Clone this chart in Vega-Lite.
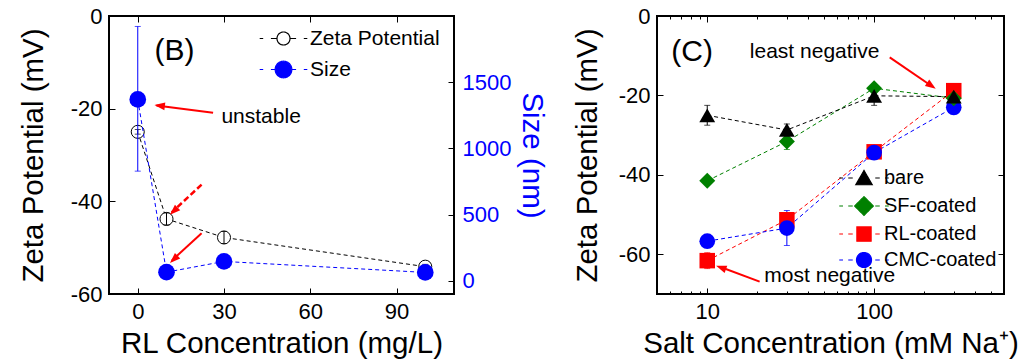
{
  "$schema": "https://vega.github.io/schema/vega-lite/v6.json",
  "padding": {"left": 17, "top": 4, "right": 0, "bottom": 0},
  "bounds": "flush",
  "spacing": 203,
  "datasets": {
    "rl": [
      {"conc": 0, "series": "Zeta Potential", "value": -25.0, "lo": -25.5, "hi": -24.5},
      {"conc": 10, "series": "Zeta Potential", "value": -43.8, "lo": -45.1, "hi": -42.5},
      {"conc": 30, "series": "Zeta Potential", "value": -47.8, "lo": -49.1, "hi": -46.5},
      {"conc": 100, "series": "Zeta Potential", "value": -54.1, "lo": -54.6, "hi": -53.6},
      {"conc": 0, "series": "Size", "value": 1370, "lo": 828, "hi": 1921},
      {"conc": 10, "series": "Size", "value": 65, "lo": 65, "hi": 65},
      {"conc": 30, "series": "Size", "value": 146, "lo": 146, "hi": 146},
      {"conc": 100, "series": "Size", "value": 63, "lo": 63, "hi": 63}
    ],
    "salt": [
      {"salt": 10, "sample": "RL-coated", "zeta": -61.6, "lo": -63.6, "hi": -59.6},
      {"salt": 30, "sample": "RL-coated", "zeta": -51.3, "lo": -52.3, "hi": -50.3},
      {"salt": 100, "sample": "RL-coated", "zeta": -34.2, "lo": -34.7, "hi": -33.7},
      {"salt": 300, "sample": "RL-coated", "zeta": -18.8, "lo": -19.3, "hi": -18.3},
      {"salt": 10, "sample": "CMC-coated", "zeta": -56.7, "lo": -57.2, "hi": -56.2},
      {"salt": 30, "sample": "CMC-coated", "zeta": -53.4, "lo": -57.8, "hi": -49.0},
      {"salt": 100, "sample": "CMC-coated", "zeta": -34.4, "lo": -34.9, "hi": -33.9},
      {"salt": 300, "sample": "CMC-coated", "zeta": -23.0, "lo": -23.5, "hi": -22.5},
      {"salt": 10, "sample": "SF-coated", "zeta": -41.5, "lo": -42.0, "hi": -41.0},
      {"salt": 30, "sample": "SF-coated", "zeta": -31.6, "lo": -33.6, "hi": -29.6},
      {"salt": 100, "sample": "SF-coated", "zeta": -18.2, "lo": -18.7, "hi": -17.7},
      {"salt": 300, "sample": "SF-coated", "zeta": -20.7, "lo": -21.2, "hi": -20.2},
      {"salt": 10, "sample": "bare", "zeta": -25.0, "lo": -27.5, "hi": -22.5},
      {"salt": 30, "sample": "bare", "zeta": -28.7, "lo": -30.2, "hi": -27.2},
      {"salt": 100, "sample": "bare", "zeta": -20.1, "lo": -22.5, "hi": -17.7},
      {"salt": 300, "sample": "bare", "zeta": -20.3, "lo": -21.8, "hi": -18.8}
    ]
  },
  "hconcat": [
    {
      "width": 345,
      "height": 278,
      "layer": [
        {
          "data": {"name": "rl"},
          "transform": [{"filter": "datum.series === 'Zeta Potential'"}],
          "mark": {"type": "line", "strokeDash": [4, 3], "strokeWidth": 1},
          "encoding": {
            "x": {"field": "conc", "type": "quantitative", "scale": {"domain": [-10, 110], "nice": false, "zero": false},
              "axis": {"orient": "bottom", "values": [0, 30, 60, 90], "labelExpr": "'' + datum.value", "title": "RL Concentration (mg/L)", "titlePadding": 7.5}},
            "y": {"field": "value", "type": "quantitative", "scale": {"domain": [-60, 0], "nice": false, "zero": false},
              "axis": {"orient": "left", "values": [-60, -40, -20, 0], "labelExpr": "'' + datum.value", "title": "Zeta Potential (mV)", "titlePadding": 22}},
            "color": {"field": "series", "type": "nominal",
              "scale": {"domain": ["Zeta Potential", "Size"], "range": ["black", "blue"]},
              "legend": {"title": null, "orient": "none", "legendX": 164, "legendY": 12, "padding": 0,
                "symbolSize": 196, "symbolStrokeWidth": 1.2, "labelFontSize": 21, "labelOffset": 16, "rowPadding": 9,
                "labelColor": "black", "labelFont": "Liberation Sans",
                "encode": {"symbols": {"update": {
                  "shape": {"signal": "datum.value === 'Size' ? 'M-3.4,0H-2.9M-1.8,0H-1.19M1.19,0H1.8M2.9,0H3.4M1.19,0A1.19,1.19 0 1,1 -1.19,0A1.19,1.19 0 1,1 1.19,0Z' : 'M-3.4,0H-2.9M-1.8,0H-1M1,0H1.8M2.9,0H3.4M0.93,0A0.93,0.93 0 1,1 -0.93,0A0.93,0.93 0 1,1 0.93,0Z'"},
                  "fill": {"signal": "datum.value === 'Size' ? 'blue' : 'white'"},
                  "stroke": {"signal": "datum.value === 'Size' ? 'blue' : 'black'"},
                  "strokeWidth": {"value": 1.2},
                  "strokeDash": {"value": [1, 0]},
                  "opacity": {"value": 1}
                }}}
              }
            }
          }
        },
        {
          "data": {"name": "rl"},
          "transform": [{"filter": "datum.series === 'Zeta Potential'"}],
          "mark": {"type": "point", "shape": "circle", "filled": true, "fill": "white", "stroke": "black", "strokeWidth": 1, "size": 170, "opacity": 1},
          "encoding": {
            "x": {"field": "conc", "type": "quantitative", "axis": null, "scale": {"domain": [-10, 110], "nice": false, "zero": false}},
            "y": {"field": "value", "type": "quantitative", "axis": null, "scale": {"domain": [-60, 0], "nice": false, "zero": false}}
          }
        },
        {
          "data": {"name": "rl"},
          "transform": [{"filter": "datum.series === 'Zeta Potential'"}],
          "mark": {"type": "errorbar", "ticks": {"size": 6}, "color": "black", "thickness": 1},
          "encoding": {
            "x": {"field": "conc", "type": "quantitative", "axis": null, "scale": {"domain": [-10, 110], "nice": false, "zero": false}},
            "y": {"field": "lo", "type": "quantitative", "axis": null, "scale": {"domain": [-60, 0], "nice": false, "zero": false}},
            "y2": {"field": "hi"}
          }
        },
        {
          "data": {"name": "rl"},
          "transform": [{"filter": "datum.series === 'Size'"}],
          "mark": {"type": "line", "strokeDash": [4, 3], "strokeWidth": 1},
          "encoding": {
            "x": {"field": "conc", "type": "quantitative", "scale": {"domain": [-10, 110], "nice": false, "zero": false},
              "axis": {"orient": "top", "values": [0, 30, 60, 90], "labels": false, "title": null}},
            "y": {"field": "value", "type": "quantitative", "scale": {"domain": [-100, 2000], "nice": false, "zero": false},
              "axis": {"orient": "right", "values": [0, 500, 1000, 1500], "labelExpr": "'' + datum.value", "title": "Size (nm)", "titlePadding": 6,
                "labelColor": "blue", "titleColor": "blue", "labelPadding": 14}},
            "color": {"field": "series", "type": "nominal",
              "scale": {"domain": ["Zeta Potential", "Size"], "range": ["black", "blue"]},
              "legend": {"title": null, "orient": "none", "legendX": 164, "legendY": 12, "padding": 0,
                "symbolSize": 196, "symbolStrokeWidth": 1.2, "labelFontSize": 21, "labelOffset": 16, "rowPadding": 9,
                "labelColor": "black", "labelFont": "Liberation Sans",
                "encode": {"symbols": {"update": {
                  "shape": {"signal": "datum.value === 'Size' ? 'M-3.4,0H-2.9M-1.8,0H-1.19M1.19,0H1.8M2.9,0H3.4M1.19,0A1.19,1.19 0 1,1 -1.19,0A1.19,1.19 0 1,1 1.19,0Z' : 'M-3.4,0H-2.9M-1.8,0H-1M1,0H1.8M2.9,0H3.4M0.93,0A0.93,0.93 0 1,1 -0.93,0A0.93,0.93 0 1,1 0.93,0Z'"},
                  "fill": {"signal": "datum.value === 'Size' ? 'blue' : 'white'"},
                  "stroke": {"signal": "datum.value === 'Size' ? 'blue' : 'black'"},
                  "strokeWidth": {"value": 1.2},
                  "strokeDash": {"value": [1, 0]},
                  "opacity": {"value": 1}
                }}}
              }
            }
          }
        },
        {
          "data": {"name": "rl"},
          "transform": [{"filter": "datum.series === 'Size'"}],
          "mark": {"type": "errorbar", "ticks": {"size": 6}, "color": "blue", "thickness": 1},
          "encoding": {
            "x": {"field": "conc", "type": "quantitative", "axis": null, "scale": {"domain": [-10, 110], "nice": false, "zero": false}},
            "y": {"field": "lo", "type": "quantitative", "axis": null, "scale": {"domain": [-100, 2000], "nice": false, "zero": false}},
            "y2": {"field": "hi"}
          }
        },
        {
          "data": {"name": "rl"},
          "transform": [{"filter": "datum.series === 'Size'"}],
          "mark": {"type": "point", "shape": "circle", "filled": true, "color": "blue", "size": 278, "opacity": 1},
          "encoding": {
            "x": {"field": "conc", "type": "quantitative", "axis": null, "scale": {"domain": [-10, 110], "nice": false, "zero": false}},
            "y": {"field": "value", "type": "quantitative", "axis": null, "scale": {"domain": [-100, 2000], "nice": false, "zero": false}}
          }
        },
        {
          "data": {"values": [{}]},
          "mark": {"type": "text", "text": "(B)", "fontSize": 30, "align": "center", "baseline": "middle", "color": "black"},
          "encoding": {"x": {"datum": 12.8, "type": "quantitative", "axis": null}, "y": {"datum": -7.6, "type": "quantitative", "axis": null, "scale": {"domain": [-60, 0], "nice": false, "zero": false}}}
        },
        {
          "data": {"values": [{}]},
          "mark": {"type": "text", "text": "unstable", "fontSize": 21, "align": "left", "baseline": "middle", "color": "black"},
          "encoding": {"x": {"datum": 29.1, "type": "quantitative", "axis": null}, "y": {"datum": -21.7, "type": "quantitative", "axis": null, "scale": {"domain": [-60, 0], "nice": false, "zero": false}}}
        },
        {
          "data": {"values": [{}]},
          "mark": {"type": "rule", "color": "red", "strokeWidth": 2},
          "encoding": {"x": {"datum": 26.2, "type": "quantitative", "axis": null}, "y": {"datum": -20.9, "type": "quantitative", "axis": null, "scale": {"domain": [-60, 0], "nice": false, "zero": false}},
            "x2": {"datum": 6.5}, "y2": {"datum": -19.3}}
        },
        {
          "data": {"values": [{}]},
          "mark": {"type": "point", "shape": "M0,0L0.55,1.5L-0.55,1.5Z", "filled": true, "color": "red", "size": 196, "angle": 277.4, "opacity": 1},
          "encoding": {"x": {"datum": 5.8, "type": "quantitative", "axis": null}, "y": {"datum": -19.2, "type": "quantitative", "axis": null, "scale": {"domain": [-60, 0], "nice": false, "zero": false}}}
        },
        {
          "data": {"values": [{}]},
          "mark": {"type": "rule", "color": "red", "strokeWidth": 2.5, "strokeDash": [6, 3]},
          "encoding": {"x": {"datum": 22.2, "type": "quantitative", "axis": null}, "y": {"datum": -36.4, "type": "quantitative", "axis": null, "scale": {"domain": [-60, 0], "nice": false, "zero": false}},
            "x2": {"datum": 11.8}, "y2": {"datum": -42.4}}
        },
        {
          "data": {"values": [{}]},
          "mark": {"type": "point", "shape": "M0,0L0.55,1.5L-0.55,1.5Z", "filled": true, "color": "red", "size": 196, "angle": 226.6, "opacity": 1},
          "encoding": {"x": {"datum": 11.2, "type": "quantitative", "axis": null}, "y": {"datum": -42.9, "type": "quantitative", "axis": null, "scale": {"domain": [-60, 0], "nice": false, "zero": false}}}
        },
        {
          "data": {"values": [{}]},
          "mark": {"type": "rule", "color": "red", "strokeWidth": 2},
          "encoding": {"x": {"datum": 22.2, "type": "quantitative", "axis": null}, "y": {"datum": -46.9, "type": "quantitative", "axis": null, "scale": {"domain": [-60, 0], "nice": false, "zero": false}},
            "x2": {"datum": 11.8}, "y2": {"datum": -52.8}}
        },
        {
          "data": {"values": [{}]},
          "mark": {"type": "point", "shape": "M0,0L0.55,1.5L-0.55,1.5Z", "filled": true, "color": "red", "size": 196, "angle": 226.6, "opacity": 1},
          "encoding": {"x": {"datum": 11.2, "type": "quantitative", "axis": null}, "y": {"datum": -53.3, "type": "quantitative", "axis": null, "scale": {"domain": [-60, 0], "nice": false, "zero": false}}}
        }
      ],
      "resolve": {"scale": {"y": "independent"}, "axis": {"x": "independent", "y": "independent"}}
    },
    {
      "width": 347,
      "height": 278,
      "layer": [
        {
          "data": {"name": "salt"},
          "mark": {"type": "line", "strokeDash": [4, 3], "strokeWidth": 1},
          "encoding": {
            "x": {"field": "salt", "type": "quantitative", "scale": {"type": "log", "domain": [5, 600], "nice": false},
              "axis": {"orient": "bottom", "values": [10, 100], "labelExpr": "'' + datum.value", "title": "Salt Concentration (mM Na⁺)", "titlePadding": 7.5}},
            "y": {"field": "zeta", "type": "quantitative", "scale": {"domain": [-70, 0], "nice": false, "zero": false},
              "axis": {"orient": "left", "values": [-60, -40, -20, 0], "labelExpr": "'' + datum.value", "title": "Zeta Potential (mV)", "titlePadding": 16}},
            "color": {"field": "sample", "type": "nominal",
              "scale": {"domain": ["bare", "SF-coated", "RL-coated", "CMC-coated"], "range": ["black", "green", "red", "blue"]},
              "legend": {"title": null, "orient": "none", "legendX": 197, "legendY": 152, "padding": 0,
                "symbolSize": 225, "symbolStrokeWidth": 1.2, "labelFontSize": 20, "labelOffset": 10, "rowPadding": 6,
                "labelColor": "black", "labelFont": "Liberation Sans",
                "encode": {"symbols": {"update": {
                  "shape": {"signal": "datum.value === 'bare' ? 'M-3.3,0H-2.8M-2.1,0H-1.5M1.5,0H2.1M2.8,0H3.3M0,-1L1.1,0.9L-1.1,0.9Z' : datum.value === 'SF-coated' ? 'M-3.3,0H-2.8M-2.1,0H-1.5M1.5,0H2.1M2.8,0H3.3M0,-1.25L1.25,0L0,1.25L-1.25,0Z' : datum.value === 'RL-coated' ? 'M-3.3,0H-2.8M-2.1,0H-1.5M1.5,0H2.1M2.8,0H3.3M-0.95,-0.95H0.95V0.95H-0.95Z' : 'M-3.3,0H-2.8M-2.1,0H-1.5M1.5,0H2.1M2.8,0H3.3M1,0A1,1 0 1,1 -1,0A1,1 0 1,1 1,0Z'"},
                  "fill": {"signal": "datum.value === 'bare' ? 'black' : datum.value === 'SF-coated' ? 'green' : datum.value === 'RL-coated' ? 'red' : 'blue'"},
                  "stroke": {"signal": "datum.value === 'bare' ? 'black' : datum.value === 'SF-coated' ? 'green' : datum.value === 'RL-coated' ? 'red' : 'blue'"},
                  "strokeWidth": {"value": 1.2},
                  "size": {"value": 225},
                  "strokeDash": {"value": [1, 0]},
                  "opacity": {"value": 1}
                }}}
              }
            }
          }
        },
        {
          "data": {"name": "salt"},
          "mark": {"type": "errorbar", "ticks": {"size": 6}, "thickness": 1},
          "encoding": {
            "x": {"field": "salt", "type": "quantitative", "axis": null},
            "y": {"field": "lo", "type": "quantitative", "axis": null},
            "y2": {"field": "hi"},
            "color": {"field": "sample", "type": "nominal", "legend": null}
          }
        },
        {
          "data": {"name": "salt"},
          "mark": {"type": "point", "filled": true, "opacity": 1, "size": 225},
          "encoding": {
            "x": {"field": "salt", "type": "quantitative",
              "axis": {"orient": "top", "values": [10, 100], "labels": false, "title": null}},
            "y": {"field": "zeta", "type": "quantitative",
              "axis": {"orient": "right", "values": [-60, -40, -20, 0], "labels": false, "title": null}},
            "color": {"field": "sample", "type": "nominal", "legend": null},
            "shape": {"field": "sample", "type": "nominal",
              "scale": {"domain": ["CMC-coated", "RL-coated", "SF-coated", "bare"], "range": ["circle", "square", "diamond", "triangle-up"]},
              "legend": null},
            "size": {"field": "sample", "type": "nominal",
              "scale": {"domain": ["SF-coated", "bare", "CMC-coated", "RL-coated"], "range": [256, 240, 205, 165]},
              "legend": null}
          }
        },
        {
          "data": {"values": [{}]},
          "mark": {"type": "text", "text": "(C)", "fontSize": 30, "align": "center", "baseline": "middle", "color": "black"},
          "encoding": {"x": {"datum": 8.11, "type": "quantitative",
            "axis": {"orient": "bottom", "values": [6, 7, 8, 9, 20, 30, 40, 50, 60, 70, 80, 90, 200, 300, 400, 500], "labels": false, "title": null, "tickSize": -3}},
            "y": {"datum": -9.1, "type": "quantitative", "axis": null}}
        },
        {
          "data": {"values": [{}]},
          "mark": {"type": "text", "text": "least negative", "fontSize": 21, "align": "center", "baseline": "middle", "color": "black"},
          "encoding": {"x": {"datum": 44.0, "type": "quantitative",
            "axis": {"orient": "top", "values": [6, 7, 8, 9, 20, 30, 40, 50, 60, 70, 80, 90, 200, 300, 400, 500], "labels": false, "title": null, "tickSize": -3}},
            "y": {"datum": -8.96, "type": "quantitative", "axis": null}}
        },
        {
          "data": {"values": [{}]},
          "mark": {"type": "text", "text": "most negative", "fontSize": 21, "align": "center", "baseline": "middle", "color": "black"},
          "encoding": {"x": {"datum": 54.2, "type": "quantitative", "axis": null}, "y": {"datum": -65.5, "type": "quantitative", "axis": null}}
        },
        {
          "data": {"values": [{}]},
          "mark": {"type": "rule", "color": "red", "strokeWidth": 2},
          "encoding": {"x": {"datum": 124, "type": "quantitative", "axis": null}, "y": {"datum": -10.4, "type": "quantitative", "axis": null},
            "x2": {"datum": 222}, "y2": {"datum": -17.7}}
        },
        {
          "data": {"values": [{}]},
          "mark": {"type": "point", "shape": "M0,0L0.55,1.5L-0.55,1.5Z", "filled": true, "color": "red", "size": 196, "angle": 124.2, "opacity": 1},
          "encoding": {"x": {"datum": 234, "type": "quantitative", "axis": null}, "y": {"datum": -18.3, "type": "quantitative", "axis": null}}
        },
        {
          "data": {"values": [{}]},
          "mark": {"type": "rule", "color": "red", "strokeWidth": 2},
          "encoding": {"x": {"datum": 20.6, "type": "quantitative", "axis": null}, "y": {"datum": -66.9, "type": "quantitative", "axis": null},
            "x2": {"datum": 12.0}, "y2": {"datum": -63.2}}
        },
        {
          "data": {"values": [{}]},
          "mark": {"type": "point", "shape": "M0,0L0.55,1.5L-0.55,1.5Z", "filled": true, "color": "red", "size": 196, "angle": 290.3, "opacity": 1},
          "encoding": {"x": {"datum": 11.3, "type": "quantitative", "axis": null}, "y": {"datum": -62.9, "type": "quantitative", "axis": null}}
        }
      ],
      "resolve": {"axis": {"x": "independent", "y": "independent"}}
    }
  ],
  "resolve": {
    "scale": {"color": "independent", "shape": "independent", "size": "independent", "x": "independent", "y": "independent"},
    "legend": {"color": "independent"}
  },
  "config": {
    "font": "Liberation Sans",
    "view": {"stroke": "black", "strokeWidth": 2},
    "axis": {
      "grid": false, "domain": false, "tickSize": -6, "tickColor": "black", "tickWidth": 1,
      "labelFontSize": 22, "titleFontSize": 29.5, "titleFontWeight": "normal",
      "labelColor": "black", "titleColor": "black", "labelPadding": 13,
      "labelFlush": false, "labelOverlap": false,
      "labelFont": "Liberation Sans", "titleFont": "Liberation Sans"
    },
    "text": {"font": "Liberation Sans"}
  }
}
